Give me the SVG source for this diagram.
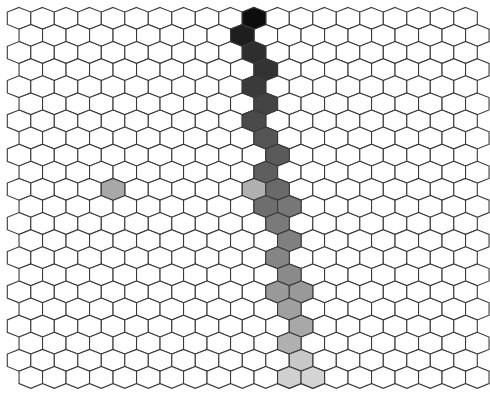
<svg xmlns="http://www.w3.org/2000/svg" xmlns:xlink="http://www.w3.org/1999/xlink" width="490" height="395" viewBox="0 0 490 395">
<style>
.hex{fill:#ffffff;stroke:#3a3a3a;stroke-width:1.1}
.s{stroke:#3a3a3a;stroke-width:1.1}
</style>
<defs>
<path id="h" d="M0,-10.9 L11.75,-6.2 L11.75,6.2 L0,10.9 L-11.75,6.2 L-11.75,-6.2 Z"/>
<g id="row" class="hex">
<use href="#h" x="0"/><use href="#h" x="23.5"/><use href="#h" x="47"/><use href="#h" x="70.5"/><use href="#h" x="94"/>
<use href="#h" x="117.5"/><use href="#h" x="141"/><use href="#h" x="164.5"/><use href="#h" x="188"/><use href="#h" x="211.5"/>
<use href="#h" x="235"/><use href="#h" x="258.5"/><use href="#h" x="282"/><use href="#h" x="305.5"/><use href="#h" x="329"/>
<use href="#h" x="352.5"/><use href="#h" x="376"/><use href="#h" x="399.5"/><use href="#h" x="423"/><use href="#h" x="446.5"/>
</g>
</defs>
<rect width="490" height="395" fill="#ffffff"/>
<g id="grid">
<use href="#row" x="19.05" y="18.3"/>
<use href="#row" x="30.8" y="35.4"/>
<use href="#row" x="19.05" y="52.5"/>
<use href="#row" x="30.8" y="69.6"/>
<use href="#row" x="19.05" y="86.7"/>
<use href="#row" x="30.8" y="103.8"/>
<use href="#row" x="19.05" y="120.9"/>
<use href="#row" x="30.8" y="138.0"/>
<use href="#row" x="19.05" y="155.1"/>
<use href="#row" x="30.8" y="172.2"/>
<use href="#row" x="19.05" y="189.3"/>
<use href="#row" x="30.8" y="206.4"/>
<use href="#row" x="19.05" y="223.5"/>
<use href="#row" x="30.8" y="240.6"/>
<use href="#row" x="19.05" y="257.7"/>
<use href="#row" x="30.8" y="274.8"/>
<use href="#row" x="19.05" y="291.9"/>
<use href="#row" x="30.8" y="309.0"/>
<use href="#row" x="19.05" y="326.1"/>
<use href="#row" x="30.8" y="343.2"/>
<use href="#row" x="19.05" y="360.3"/>
<use href="#row" x="30.8" y="377.4"/>
</g>
<g id="shaded" class="s">
<use href="#h" x="254.05" y="18.3" fill="#0d0d0d"/>
<use href="#h" x="242.3" y="35.4" fill="#1e1e1e"/>
<use href="#h" x="254.05" y="52.5" fill="#2e2e2e"/>
<use href="#h" x="265.8" y="69.6" fill="#333333"/>
<use href="#h" x="254.05" y="86.7" fill="#3a3a3a"/>
<use href="#h" x="265.8" y="103.8" fill="#444444"/>
<use href="#h" x="254.05" y="120.9" fill="#4a4a4a"/>
<use href="#h" x="265.8" y="138.0" fill="#555555"/>
<use href="#h" x="277.55" y="155.1" fill="#5a5a5a"/>
<use href="#h" x="265.8" y="172.2" fill="#5e5e5e"/>
<use href="#h" x="113.05" y="189.3" fill="#a8a8a8"/>
<use href="#h" x="254.05" y="189.3" fill="#b0b0b0"/>
<use href="#h" x="277.55" y="189.3" fill="#6a6a6a"/>
<use href="#h" x="265.8" y="206.4" fill="#6e6e6e"/>
<use href="#h" x="289.3" y="206.4" fill="#777777"/>
<use href="#h" x="277.55" y="223.5" fill="#7a7a7a"/>
<use href="#h" x="289.3" y="240.6" fill="#808080"/>
<use href="#h" x="277.55" y="257.7" fill="#858585"/>
<use href="#h" x="289.3" y="274.8" fill="#8a8a8a"/>
<use href="#h" x="277.55" y="291.9" fill="#999999"/>
<use href="#h" x="301.05" y="291.9" fill="#999999"/>
<use href="#h" x="289.3" y="309.0" fill="#a0a0a0"/>
<use href="#h" x="301.05" y="326.1" fill="#a8a8a8"/>
<use href="#h" x="289.3" y="343.2" fill="#b0b0b0"/>
<use href="#h" x="301.05" y="360.3" fill="#c8c8c8"/>
<use href="#h" x="289.3" y="377.4" fill="#d0d0d0"/>
<use href="#h" x="312.8" y="377.4" fill="#d4d4d4"/>
</g>
</svg>
